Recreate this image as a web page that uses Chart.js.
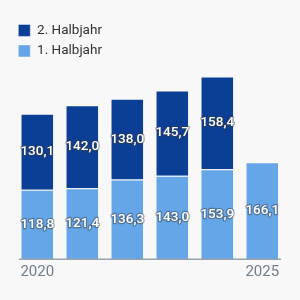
<!DOCTYPE html>
<html>
<head>
<meta charset="utf-8">
<script src="https://cdn.jsdelivr.net/npm/chart.js@4/dist/chart.umd.min.js"></script>
<style>
  html, body { margin: 0; padding: 0; background: #f8f8f8; }
  #wrap { width: 300px; height: 300px; position: relative; }
</style>
</head>
<body>
<div id="wrap"><canvas id="c"></canvas></div>
<script>
const categories = ['2020', '2021', '2022', '2023', '2024', '2025'];
const firstHalf = [118.8, 121.4, 136.3, 143.0, 153.9, 166.1];
const secondHalf = [130.1, 142.0, 138.0, 145.7, 158.4, null];
const seriesNames = ['1. Halbjahr', '2. Halbjahr'];
const shownTicks = ['2020', '2025'];

const fmt = v => v.toFixed(1).replace('.', ',');

const labelPlugin = {
  id: 'valueLabels',
  afterDatasetsDraw(chart) {
    const ctx = chart.ctx;
    ctx.save();
    ctx.font = '500 13.5px Roboto';
    ctx.textAlign = 'center';
    ctx.textBaseline = 'middle';
    ctx.lineJoin = 'round';
    chart.data.datasets.forEach((ds, di) => {
      const meta = chart.getDatasetMeta(di);
      meta.data.forEach((el, i) => {
        const v = ds.data[i];
        if (v == null) return;
        const y = (el.y + el.base) / 2;
        const t = fmt(v);
        ctx.lineWidth = 2.5;
        ctx.strokeStyle = 'rgba(60,60,60,0.45)';
        ctx.strokeText(t, el.x, y);
        ctx.fillStyle = '#ffffff';
        ctx.fillText(t, el.x, y);
      });
    });
    ctx.restore();
  }
};

const baselinePlugin = {
  id: 'baseline',
  afterDatasetsDraw(chart) {
    const meta = chart.getDatasetMeta(0);
    const first = meta.data[0], last = meta.data[meta.data.length - 1];
    const y0 = chart.scales.y.getPixelForValue(0);
    const ctx = chart.ctx;
    ctx.save();
    ctx.strokeStyle = '#98a2ad';
    ctx.lineWidth = 1.5;
    ctx.beginPath();
    ctx.moveTo(first.x - first.width / 2 - 1.5, y0);
    ctx.lineTo(last.x + last.width / 2 + 2, y0);
    ctx.stroke();
    ctx.restore();
  }
};

const legendShift = {
  id: 'legendShift',
  beforeDraw(chart) {
    if (chart.legend) {
      chart.legend.left = chart.chartArea.left - 3.5;
      chart.legend.top = 16.7;
    }
  }
};

new Chart(document.getElementById('c'), {
  type: 'bar',
  data: {
    labels: categories,
    datasets: [
      { label: seriesNames[0], data: firstHalf, backgroundColor: '#64a6e8', borderColor: 'rgba(255,255,255,0.45)', borderWidth: 1 },
      { label: seriesNames[1], data: secondHalf, backgroundColor: '#0b3f95', borderColor: 'rgba(255,255,255,0.45)', borderWidth: 1 }
    ]
  },
  options: {
    responsive: true,
    maintainAspectRatio: false,
    animation: false,
    devicePixelRatio: 1,
    layout: { padding: { left: 14.8, right: 15.2, top: 13.6, bottom: 14.7 } },
    datasets: { bar: { categoryPercentage: 0.745, barPercentage: 1 } },
    scales: {
      x: {
        stacked: true,
        grid: { display: false, drawTicks: false, tickLength: 0 },
        border: { display: false },
        ticks: {
          autoSkip: false,
          maxRotation: 0,
          padding: 4,
          color: '#6f7e8c',
          font: { family: 'Roboto', size: 15 },
          callback: (v, i) => shownTicks.includes(categories[i]) ? categories[i] : ''
        }
      },
      y: { stacked: true, display: false, min: 0, max: 420 }
    },
    plugins: {
      tooltip: { enabled: false },
      legend: {
        position: 'chartArea',
        align: 'start',
        reverse: true,
        labels: {
          boxWidth: 12,
          boxHeight: 12,
          padding: 7,
          color: '#333333',
          font: { family: 'Roboto', size: 13.5 }
        }
      }
    }
  },
  plugins: [labelPlugin, baselinePlugin, legendShift]
});
</script>
</body>
</html>
